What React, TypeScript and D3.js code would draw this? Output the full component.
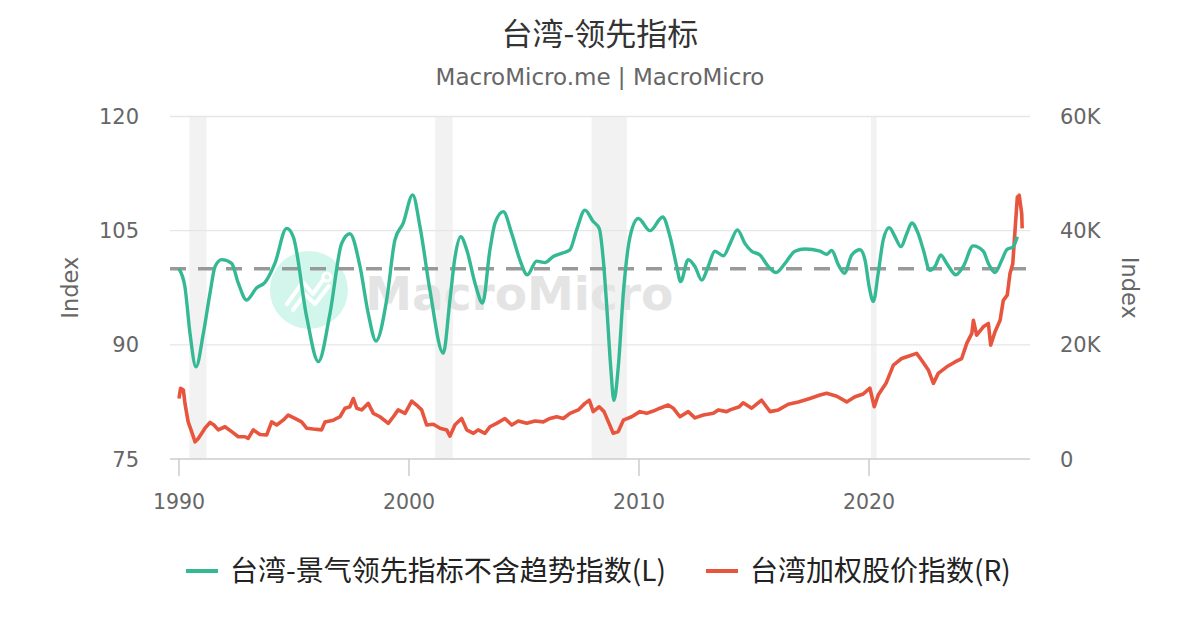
import React, { useEffect, useRef } from 'react';
import * as d3 from 'd3';

// 台湾-景气领先指标不含趋势指数 (left axis)
const leadYears = [
  1990.0, 1990.26, 1990.48, 1990.74, 1991.06, 1991.35, 1991.57, 1991.86, 1992.29, 1992.58,
  1992.94, 1993.38, 1993.74, 1994.17, 1994.68, 1994.97, 1995.55, 1996.06, 1996.57, 1997.07,
  1997.43, 1997.87, 1998.23, 1998.57, 1999.03, 1999.39, 1999.75, 2000.16, 2000.48, 2000.91,
  2001.49, 2001.78, 2002.0, 2002.25, 2002.51, 2002.87, 2003.2, 2003.52, 2003.74, 2004.1,
  2004.47, 2004.83, 2005.14, 2005.55, 2005.91, 2006.27, 2006.71, 2007.0, 2007.29, 2007.65,
  2008.01, 2008.27, 2008.45, 2008.6, 2008.77, 2008.91, 2009.1, 2009.32, 2009.61, 2009.97,
  2010.48, 2011.03, 2011.35, 2011.64, 2011.81, 2012.14, 2012.43, 2012.73, 2013.01, 2013.3,
  2013.67, 2013.96, 2014.28, 2014.61, 2014.9, 2015.26, 2015.62, 2015.96, 2016.35, 2016.78,
  2017.22, 2017.87, 2018.16, 2018.38, 2018.67, 2018.93, 2019.25, 2019.61, 2019.83, 2020.01,
  2020.19, 2020.4, 2020.62, 2020.88, 2021.13, 2021.39, 2021.64, 2021.86, 2022.14, 2022.36,
  2022.65, 2022.87, 2023.12, 2023.38, 2023.78, 2024.1, 2024.53, 2024.97, 2025.19, 2025.48,
  2025.77, 2025.99, 2026.27, 2026.45,
];
const leadValues = [
  100.0, 97.6, 91.5, 87.1, 91.5, 96.8, 100.3, 101.2, 100.7, 98.1,
  95.9, 97.5, 98.2, 100.7, 105.3, 104.2, 93.7, 87.8, 94.2, 103.3,
  104.6, 100.3, 94.1, 90.5, 95.9, 103.8, 106.0, 109.7, 105.5, 97.2,
  88.9, 95.9, 101.5, 104.2, 102.5, 98.1, 95.5, 102.5, 106.0, 107.5,
  104.6, 101.1, 99.2, 101.0, 100.8, 101.6, 102.1, 102.5, 105.1, 107.7,
  106.2, 105.3, 101.1, 95.0, 87.1, 82.7, 87.1, 96.8, 104.2, 106.6,
  105.0, 106.8, 104.2, 100.3, 98.3, 101.2, 100.3, 98.5, 100.3, 102.3,
  101.7, 103.3, 105.1, 103.3, 102.3, 101.8, 100.3, 99.5, 100.7, 102.3,
  102.6, 102.3, 101.9, 102.4, 100.5, 99.4, 101.8, 102.5, 101.1, 97.6,
  95.7, 99.4, 103.8, 105.4, 104.2, 102.9, 104.6, 106.0, 104.6, 102.5,
  99.8, 100.3, 101.8, 100.7, 99.2, 100.3, 103.0, 102.3, 100.7, 99.5,
  101.1, 102.5, 102.9, 104.2,
];

// 台湾加权股价指数 (right axis)
const taiexYears = [
  1990.0, 1990.07, 1990.19, 1990.26, 1990.4, 1990.55, 1990.7, 1990.84, 1990.99, 1991.13,
  1991.35, 1991.52, 1991.71, 1992.0, 1992.29, 1992.58, 1992.87, 1993.01, 1993.23, 1993.52,
  1993.81, 1994.03, 1994.25, 1994.53, 1994.75, 1995.04, 1995.33, 1995.55, 1995.84, 1996.2,
  1996.35, 1996.71, 1997.0, 1997.22, 1997.43, 1997.58, 1997.73, 1997.94, 1998.23, 1998.45,
  1998.74, 1999.1, 1999.32, 1999.53, 1999.83, 2000.12, 2000.33, 2000.55, 2000.77, 2001.06,
  2001.35, 2001.64, 2001.78, 2002.0, 2002.29, 2002.51, 2002.8, 2003.01, 2003.3, 2003.52,
  2003.81, 2004.17, 2004.47, 2004.75, 2005.12, 2005.48, 2005.84, 2006.13, 2006.42, 2006.71,
  2007.0, 2007.36, 2007.65, 2007.84, 2008.01, 2008.27, 2008.48, 2008.67, 2008.88, 2009.1,
  2009.32, 2009.68, 2010.04, 2010.33, 2010.62, 2010.91, 2011.27, 2011.49, 2011.78, 2012.14,
  2012.43, 2012.8, 2013.23, 2013.45, 2013.81, 2013.96, 2014.36, 2014.53, 2014.9, 2015.33,
  2015.7, 2016.06, 2016.49, 2016.93, 2017.43, 2017.87, 2018.16, 2018.6, 2019.03, 2019.39,
  2019.75, 2020.04, 2020.23, 2020.4, 2020.74, 2021.06, 2021.42, 2021.71, 2022.07, 2022.29,
  2022.58, 2022.8, 2023.01, 2023.38, 2023.74, 2024.03, 2024.25, 2024.47, 2024.54, 2024.68,
  2024.97, 2025.19, 2025.29, 2025.48, 2025.7, 2025.84, 2026.01, 2026.13, 2026.25, 2026.35,
  2026.45, 2026.53, 2026.64, 2026.66,
];
const taiexValues = [
  10600, 12400, 12100, 9750, 6500, 4800, 3000, 3600, 4500, 5400,
  6400, 5950, 5100, 5650, 4800, 3900, 3900, 3600, 5100, 4300,
  4200, 6500, 5950, 6800, 7700, 7100, 6500, 5400, 5250, 5100,
  6500, 6800, 7400, 8900, 9150, 10600, 8900, 8600, 9750, 8000,
  7400, 6250, 7400, 8600, 8000, 10150, 9450, 8600, 5950, 6100,
  5400, 5100, 4000, 6000, 7100, 5100, 4500, 5100, 4500, 5650,
  6250, 7100, 5950, 6650, 6250, 6650, 6500, 7100, 7400, 7100,
  8000, 8600, 9750, 10300, 8300, 9150, 8300, 6500, 4500, 4800,
  6800, 7400, 8300, 8000, 8400, 8900, 9450, 8900, 7400, 8300,
  7200, 7700, 8000, 8600, 8300, 8600, 9150, 9850, 8900, 10300,
  8300, 8600, 9600, 10000, 10600, 11200, 11500, 11000, 10000, 10900,
  11400, 12400, 9150, 11200, 13250, 16450, 17600, 18000, 18500, 17300,
  15600, 13250, 15000, 16150, 17000, 17600, 20250, 22000, 24300, 21700,
  23150, 23750, 19950, 22300, 24300, 27800, 28700, 32500, 34200, 40100,
  45900, 46200, 43000, 40400,
];

// shaded recession periods
const recessionStart = [1990.45, 2001.14, 2007.94, 2020.09];
const recessionEnd = [1991.2, 2001.9, 2009.47, 2020.33];

const xTicks = [1990, 2000, 2010, 2020];
const leftTicks = [75, 90, 105, 120];
const rightTicks = [0, 20000, 40000, 60000];
const baseline = 100;

const title = '台湾-领先指标';
const subtitle = 'MacroMicro.me | MacroMicro';
const legendLabels = ['台湾-景气领先指标不含趋势指数(L)', '台湾加权股价指数(R)'];

const GREEN = '#35b995';
const RED = '#e8553e';
const FONT = '"DejaVu Sans", "Noto Sans CJK SC", sans-serif';
const CJK = '"Noto Sans CJK SC", "DejaVu Sans", sans-serif';

const App: React.FC = () => {
  const ref = useRef<SVGSVGElement | null>(null);

  useEffect(() => {
    if (!ref.current) return;
    document.body.style.margin = '0';
    const width = 1200;
    const height = 630;
    const margin = { top: 116.5, right: 170, bottom: 171, left: 170 };
    const innerW = width - margin.left - margin.right;
    const innerH = height - margin.top - margin.bottom;

    const svg = d3.select(ref.current);
    svg.selectAll('*').remove();
    svg.attr('width', width).attr('height', height).style('display', 'block');

    svg.append('rect').attr('width', width).attr('height', height).attr('fill', '#fff');

    const x = d3.scaleLinear().domain([1989.61, 2027.0]).range([0, innerW]);
    const yL = d3.scaleLinear().domain([75, 120]).range([innerH, 0]);
    const yR = d3.scaleLinear().domain([0, 60000]).range([innerH, 0]);

    // title
    svg.append('text')
      .attr('x', width / 2).attr('y', 45)
      .attr('text-anchor', 'middle')
      .style('font-family', CJK).style('font-size', '31px').style('fill', '#333')
      .text(title);
    svg.append('text')
      .attr('x', width / 2).attr('y', 85)
      .attr('text-anchor', 'middle')
      .style('font-family', FONT).style('font-size', '23px').style('fill', '#666')
      .text(subtitle);

    const g = svg.append('g').attr('transform', `translate(${margin.left},${margin.top})`);

    // recession bands
    g.selectAll('rect.rec')
      .data(recessionStart)
      .enter()
      .append('rect')
      .attr('class', 'rec')
      .attr('x', d => x(d))
      .attr('width', (d, i) => x(recessionEnd[i]) - x(d))
      .attr('y', 0)
      .attr('height', innerH)
      .attr('fill', '#f2f2f2');

    // grid
    g.selectAll('line.grid')
      .data(leftTicks.filter(t => t !== 75))
      .enter()
      .append('line')
      .attr('class', 'grid')
      .attr('x1', 0).attr('x2', innerW)
      .attr('y1', d => yL(d)).attr('y2', d => yL(d))
      .attr('stroke', '#e6e6e6').attr('stroke-width', 1.3);

    // watermark
    const wm = g.append('g').attr('transform', `translate(${x(1995.65)},${yL(97.2)})`);
    wm.append('circle').attr('r', 39).attr('fill', '#d3f6ec');
    wm.append('path')
      .attr('d', 'M-22,14 L-6,-8 L4,4 L14,-10 M-16,20 L-4,4 L6,14 L20,-4')
      .attr('fill', 'none').attr('stroke', '#fff').attr('stroke-width', 4)
      .attr('stroke-linecap', 'round').attr('stroke-linejoin', 'round');
    wm.append('circle').attr('cx', 18).attr('cy', -13).attr('r', 4)
      .attr('fill', 'none').attr('stroke', '#fff').attr('stroke-width', 3);
    g.append('text')
      .attr('x', x(1998.1)).attr('y', yL(94.6))
      .style('font-family', FONT).style('font-weight', 'bold')
      .style('font-size', '47px').style('fill', '#e4e4e4')
      .text('MacroMicro');

    // x axis
    g.append('line')
      .attr('x1', 0).attr('x2', innerW)
      .attr('y1', innerH).attr('y2', innerH)
      .attr('stroke', '#ccc').attr('stroke-width', 1.5);
    const xt = g.selectAll('g.xt').data(xTicks).enter().append('g')
      .attr('transform', d => `translate(${x(d)},${innerH})`);
    xt.append('line').attr('y1', 0).attr('y2', 17).attr('stroke', '#ccc').attr('stroke-width', 1.5);
    xt.append('text')
      .attr('y', 50).attr('text-anchor', 'middle')
      .style('font-family', FONT).style('font-size', '20.5px').style('fill', '#666')
      .text(d => String(d));

    // y axis labels
    g.selectAll('text.yl').data(leftTicks).enter().append('text')
      .attr('x', -31).attr('y', d => yL(d)).attr('dy', '0.36em')
      .attr('text-anchor', 'end')
      .style('font-family', FONT).style('font-size', '21px').style('fill', '#666')
      .text(d => String(d));
    g.selectAll('text.yr').data(rightTicks).enter().append('text')
      .attr('x', innerW + 30).attr('y', d => yR(d)).attr('dy', '0.36em')
      .style('font-family', FONT).style('font-size', '21px').style('fill', '#666')
      .text(d => (d === 0 ? '0' : `${d / 1000}K`));

    g.append('text')
      .attr('transform', `translate(${-100},${innerH / 2}) rotate(-90)`)
      .attr('text-anchor', 'middle').attr('dy', '0.36em')
      .style('font-family', FONT).style('font-size', '22.5px').style('fill', '#666')
      .text('Index');
    g.append('text')
      .attr('transform', `translate(${innerW + 100},${innerH / 2}) rotate(90)`)
      .attr('text-anchor', 'middle').attr('dy', '0.36em')
      .style('font-family', FONT).style('font-size', '22.5px').style('fill', '#666')
      .text('Index');

    // baseline 100
    g.append('line')
      .attr('x1', 0).attr('x2', x(2026.9))
      .attr('y1', yL(baseline)).attr('y2', yL(baseline))
      .attr('stroke', '#999').attr('stroke-width', 3.5)
      .attr('stroke-dasharray', '16,12');

    // TAIEX
    const taiex = taiexYears.map((t, i) => [t, taiexValues[i]] as [number, number]);
    g.append('path')
      .datum(taiex)
      .attr('fill', 'none').attr('stroke', RED).attr('stroke-width', 3.6)
      .attr('stroke-linejoin', 'round')
      .attr('d', d3.line<[number, number]>().x(d => x(d[0])).y(d => yR(d[1])));

    // leading index
    const lead = leadYears.map((t, i) => [t, leadValues[i]] as [number, number]);
    g.append('path')
      .datum(lead)
      .attr('fill', 'none').attr('stroke', GREEN).attr('stroke-width', 3.4)
      .attr('stroke-linejoin', 'round')
      .attr('d', d3.line<[number, number]>().x(d => x(d[0])).y(d => yL(d[1])).curve(d3.curveMonotoneX));

    // legend
    const lg = svg.append('g').attr('transform', 'translate(0,571)');
    const legendX = [186, 706];
    [GREEN, RED].forEach((c, i) => {
      lg.append('line')
        .attr('x1', legendX[i]).attr('x2', legendX[i] + 32)
        .attr('stroke', c).attr('stroke-width', 4);
      lg.append('text')
        .attr('x', legendX[i] + 44).attr('dy', '0.35em')
        .style('font-family', CJK).style('font-size', '28px').style('fill', '#222')
        .text(legendLabels[i]);
    });
  }, []);

  return <svg ref={ref} />;
};

export default App;
